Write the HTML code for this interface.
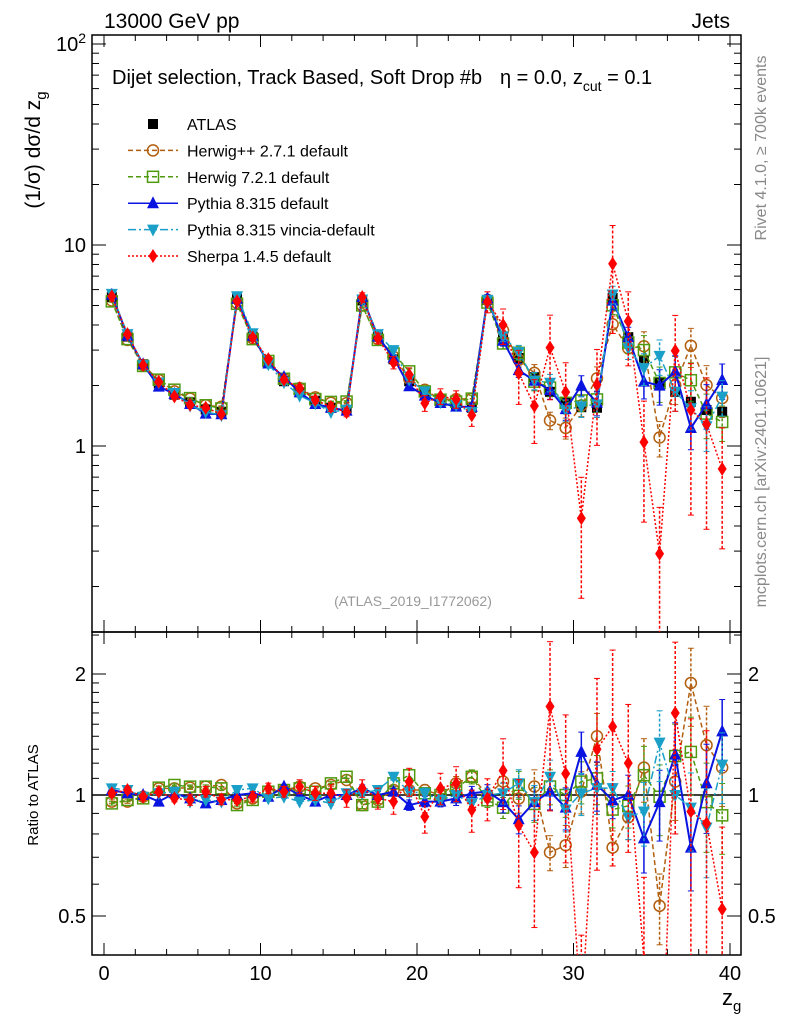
<!DOCTYPE html>
<html><head><meta charset="utf-8"><style>
html,body{margin:0;padding:0;background:#fff;width:786px;height:1024px;overflow:hidden;}
svg{display:block;font-family:"Liberation Sans",sans-serif;}
</style></head><body>
<svg id="c" width="786" height="1024" xmlns="http://www.w3.org/2000/svg"></svg>
<script>
const xCenters=[0.5,1.5,2.5,3.5,4.5,5.5,6.5,7.5,8.5,9.5,10.5,11.5,12.5,13.5,14.5,15.5,16.5,17.5,18.5,19.5,20.5,21.5,22.5,23.5,24.5,25.5,26.5,27.5,28.5,29.5,30.5,31.5,32.5,33.5,34.5,35.5,36.5,37.5,38.5,39.5];
const atlasVals=[5.5,3.5,2.55,2.05,1.8,1.65,1.52,1.48,5.4,3.5,2.6,2.1,1.85,1.68,1.55,1.5,5.3,3.5,2.7,2.1,1.85,1.7,1.6,1.55,5.33,3.48,2.74,2.2,1.86,1.64,1.56,1.55,5.45,3.48,2.68,2.08,1.86,1.66,1.51,1.48];
const herwigppRatio=[0.963,0.963,0.99,1.039,1.039,1.043,1.049,1.059,0.953,0.981,1.01,1.029,1.049,1.039,1.059,1.09,0.944,0.972,1.029,1.029,1.029,1.0,1.069,1.11,1.0,1.08,0.98,1.05,0.72,0.75,1.02,1.4,0.74,0.88,1.17,0.53,1.08,1.9,1.33,1.17];
const herwig7Ratio=[0.953,0.972,0.981,1.043,1.059,1.049,1.049,1.039,0.944,0.972,1.019,1.029,1.039,1.019,1.069,1.11,0.944,0.963,1.069,1.12,1.01,1.0,1.039,1.11,0.97,0.93,1.06,0.95,1.05,1.0,1.08,1.1,0.92,0.94,1.12,0.99,1.25,1.28,0.96,0.89];
const pythiaRatio=[1.029,1.01,1.0,0.963,1.01,0.981,0.953,0.972,1.0,1.01,0.99,1.049,1.0,0.963,1.0,1.0,1.039,1.0,1.019,0.944,0.963,0.963,0.981,1.01,1.02,0.96,0.87,0.96,1.02,0.93,1.28,1.06,0.97,1.0,0.78,0.96,1.26,0.74,1.07,1.44];
const vinciaRatio=[1.039,1.029,0.99,1.01,1.019,0.963,0.972,0.963,1.029,1.039,0.981,0.99,0.963,0.972,0.953,1.01,1.01,1.029,1.11,1.019,1.01,0.972,1.0,0.953,1.0,1.01,1.07,0.96,1.11,0.92,1.01,1.04,1.04,0.88,0.91,1.35,1.0,0.93,0.83,1.19];
const sherpaRatio=[1.01,1.029,0.99,1.019,0.981,0.972,1.019,0.975,0.972,0.99,1.039,1.019,1.049,1.01,1.01,0.981,1.039,0.981,0.963,1.079,0.883,1.039,1.069,0.918,0.98,1.15,0.84,0.72,1.66,1.13,0.28,1.3,1.48,1.2,0.39,0.14,1.6,0.91,0.85,0.52];
const mcRelErr=[0.01,0.01,0.01,0.01,0.01,0.01,0.01,0.01,0.01,0.01,0.01,0.01,0.01,0.01,0.01,0.01,0.02,0.02,0.02,0.03,0.03,0.03,0.04,0.04,0.04,0.06,0.08,0.1,0.1,0.12,0.12,0.14,0.1,0.12,0.18,0.2,0.2,0.22,0.25,0.2];
const sherpaRelErr=[0.02,0.02,0.02,0.02,0.02,0.03,0.03,0.03,0.02,0.03,0.03,0.03,0.04,0.04,0.05,0.05,0.05,0.06,0.07,0.08,0.09,0.09,0.1,0.12,0.12,0.2,0.3,0.35,0.45,0.4,0.6,0.5,0.55,0.4,0.6,0.7,0.5,0.7,0.7,0.6];
const xTicks=[0,10,20,30,40];
const mainTickVals=[1,10,100];
const ratioTickVals=[0.5,1,2];

const svg=document.getElementById('c');
const NS='http://www.w3.org/2000/svg';
function el(t,a,p){const e=document.createElementNS(NS,t);for(const k in a)e.setAttribute(k,a[k]);(p||svg).appendChild(e);return e;}
const L=92,R=741,T=35,M=632,B=955;
const X=v=>104+(v)*15.65;
const Ym=v=>446-Math.log10(v)*201;
const Yr=v=>795-Math.log2(v)*121;
const clipM=el('clipPath',{id:'cm'});el('rect',{x:L,y:T,width:R-L,height:M-T},clipM);
const clipR=el('clipPath',{id:'cr'});el('rect',{x:L,y:M,width:R-L,height:B-M},clipR);

const f1=el('rect',{x:L,y:T,width:R-L,height:M-T,fill:'none',stroke:'#000','stroke-width':1.5});

const f2=el('rect',{x:L,y:M,width:R-L,height:B-M,fill:'none',stroke:'#000','stroke-width':1.5});


for(let v=0;v<=40;v+=2){const maj=v%10===0;const len=maj?12:6;
 for(const [y0,dir] of [[M,-1],[T,1],[B,-1],[M,1]]){el('line',{x1:X(v),x2:X(v),y1:y0,y2:y0+dir*len,stroke:'#000','stroke-width':1});}}
xTicks.forEach(v=>{const t=el('text',{x:X(v),y:980,'font-size':20,'text-anchor':'middle'});t.textContent=v;
 });
for(let d=-1;d<=2;d++)for(let m=1;m<=9;m++){const v=m*Math.pow(10,d);const y=Ym(v);if(y<T||y>M)continue;const len=m===1?14:7;
 el('line',{x1:L,x2:L+len,y1:y,y2:y,stroke:'#000'});el('line',{x1:R,x2:R-len,y1:y,y2:y,stroke:'#000'});}
mainTickVals.forEach(v=>{const t=el('text',{x:86,y:Ym(v)+7,'font-size':20,'text-anchor':'end'});
 if(v===100){t.textContent='10';const s=el('tspan',{dy:-8,'font-size':14},t);s.textContent='2';}else t.textContent=v;
 });
[0.4,0.5,0.6,0.7,0.8,0.9,1,1.1,1.2,1.3,1.4,1.5,1.6,1.7,1.8,1.9,2,2.5].forEach(v=>{const y=Yr(v);if(y<M||y>B)return;const len=[0.5,1,2].includes(v)?14:7;
 el('line',{x1:L,x2:L+len,y1:y,y2:y,stroke:'#000'});el('line',{x1:R,x2:R-len,y1:y,y2:y,stroke:'#000'});});
ratioTickVals.forEach(v=>{for(const [x,a] of [[86,'end'],[748,'start']]){const t=el('text',{x:x,y:Yr(v)+7,'font-size':20,'text-anchor':a});t.textContent=v;
 }});
el('line',{x1:L,x2:R,y1:Yr(1),y2:Yr(1),stroke:'#000','stroke-width':1.5});

const series=[
 {name:'herwigpp',ratio:herwigppRatio,err:mcRelErr,col:'#b25e0f',dash:'5,3',mk:'circle'},
 {name:'herwig7',ratio:herwig7Ratio,err:mcRelErr,col:'#4f9a0f',dash:'5,3',mk:'osquare'},
 {name:'pythia',ratio:pythiaRatio,err:mcRelErr,col:'#0a14e0',dash:'',mk:'tri'},
 {name:'vincia',ratio:vinciaRatio,err:mcRelErr,col:'#1aa0c8',dash:'8,3,2,3',mk:'itri'},
 {name:'sherpa',ratio:sherpaRatio,err:sherpaRelErr,col:'#f00',dash:'2,2',mk:'diamond'}];
function marker(g,mk,x,y,col){
 if(mk==='circle')el('circle',{cx:x,cy:y,r:5.5,fill:'#fff','fill-opacity':0,stroke:col,'stroke-width':1.5},g);
 else if(mk==='osquare')el('rect',{x:x-5.5,y:y-5.5,width:11,height:11,fill:'none',stroke:col,'stroke-width':1.5},g);
 else if(mk==='tri')el('polygon',{points:`${x},${y-7} ${x-6},${y+5} ${x+6},${y+5}`,fill:col},g);
 else if(mk==='itri')el('polygon',{points:`${x},${y+7} ${x-6},${y-5} ${x+6},${y-5}`,fill:col},g);
 else if(mk==='diamond')el('polygon',{points:`${x},${y-7} ${x-4.5},${y} ${x},${y+7} ${x+4.5},${y}`,fill:col},g);
 else if(mk==='square')el('rect',{x:x-5,y:y-5,width:10,height:10,fill:col},g);
}
const ga=el('g',{'clip-path':'url(#cm)'});
atlasVals.forEach((v,i)=>marker(ga,'square',X(xCenters[i]),Ym(v),'#000'));
for(const s of series){
 for(const panel of ['main','ratio']){
  const g=el('g',{'clip-path':panel==='main'?'url(#cm)':'url(#cr)'});
  
  const Y=panel==='main'?(i=>Ym(atlasVals[i]*s.ratio[i])):(i=>Yr(s.ratio[i]));
  const pts=xCenters.map((x,i)=>X(x)+','+Y(i)).join(' ');
  el('polyline',{points:pts,fill:'none',stroke:s.col,'stroke-width':s.name==='pythia'?2:1.5,'stroke-dasharray':s.dash},g);
  xCenters.forEach((x,i)=>{const r=s.ratio[i],e=s.err[i];
   const lo=Math.max(r*(1-e),0.01),hi=r*(1+e);
   const y1=panel==='main'?Ym(atlasVals[i]*lo):Yr(lo),y2=panel==='main'?Ym(atlasVals[i]*hi):Yr(hi);
   el('line',{x1:X(x),x2:X(x),y1:y1,y2:y2,stroke:s.col,'stroke-width':1.5,'stroke-dasharray':s.dash?'3,2':''},g);
   el('line',{x1:X(x)-3,x2:X(x)+3,y1:y1,y2:y1,stroke:s.col},g);el('line',{x1:X(x)-3,x2:X(x)+3,y1:y2,y2:y2,stroke:s.col},g);
   marker(g,s.mk,X(x),Y(i),s.col);});
 }
}
const legendLabels=['ATLAS','Herwig++ 2.7.1 default','Herwig 7.2.1 default','Pythia 8.315 default','Pythia 8.315 vincia-default','Sherpa 1.4.5 default'];
const legendMk=[['square','#000',''],['circle','#b25e0f','5,3'],['osquare','#4f9a0f','5,3'],['tri','#0a14e0',''],['itri','#1aa0c8','8,3,2,3'],['diamond','#f00','2,2']];
legendLabels.forEach((lab,i)=>{const y=124+i*26.4;const g=el('g',{});
 
 if(i>0)el('line',{x1:128,x2:178,y1:y,y2:y,stroke:legendMk[i][1],'stroke-width':1.5,'stroke-dasharray':legendMk[i][2]},g);
 marker(g,legendMk[i][0],153,y,legendMk[i][1]);
 const t=el('text',{x:187,y:y+6,'font-size':16},g);t.textContent=lab;});
function txt(s,a,name){const t=el('text',a);t.textContent=s;return t;}
txt('13000 GeV pp',{x:104,y:28,'font-size':21},'energy-label');
txt('Jets',{x:730,y:28,'font-size':21,'text-anchor':'end'},'process-label');
txt('Dijet selection, Track Based, Soft Drop #b',{x:112,y:84,'font-size':20},'plot-title');
const t2=txt('',{x:500,y:84,'font-size':20},'plot-title-cuts');t2.textContent='η = 0.0, z';
const sub=el('tspan',{dy:7,'font-size':14},t2);sub.textContent='cut';const t3=el('tspan',{dy:-7},t2);t3.textContent=' = 0.1';
txt('(ATLAS_2019_I1772062)',{x:413,y:606,'font-size':14,fill:'#999','text-anchor':'middle'},'analysis-id');
const yl=txt('(1/σ) dσ/d z',{transform:'translate(40,150) rotate(-90)','font-size':21,'text-anchor':'middle'},'y-axis-title');
const ys=el('tspan',{dy:6,'font-size':15},yl);ys.textContent='g';
txt('Ratio to ATLAS',{transform:'translate(38,795) rotate(-90)','font-size':15,'text-anchor':'middle'},'ratio-axis-title');
const xl=txt('z',{x:722,y:1005,'font-size':22},'x-axis-title');const xs=el('tspan',{dy:6,'font-size':15},xl);xs.textContent='g';
txt('Rivet 4.1.0, ≥ 700k events',{transform:'translate(766,148) rotate(-90)','font-size':16,fill:'#888','text-anchor':'middle'},'rivet-version');
txt('mcplots.cern.ch [arXiv:2401.10621]',{transform:'translate(766,482) rotate(-90)','font-size':16,fill:'#888','text-anchor':'middle'},'mcplots-credit');
</script>
</body></html>
